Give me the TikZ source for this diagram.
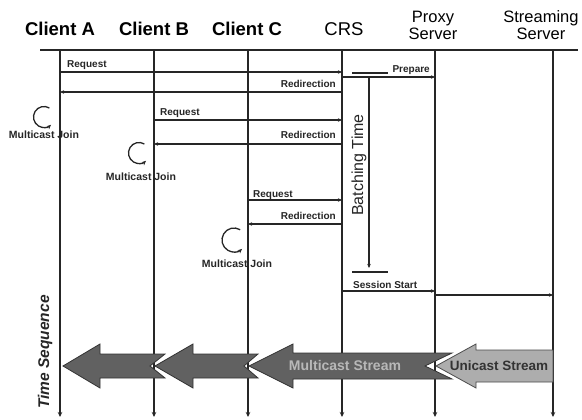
\documentclass[tikz,border=0pt]{standalone}
\usepackage{fontspec}
\setmainfont{Liberation Sans}
\usetikzlibrary{arrows.meta,calc}
\begin{document}
\begin{tikzpicture}[x=1pt,y=1pt,
 life/.style={line width=1.6pt, draw=black!85, -{Stealth[length=5pt,width=4.5pt]}},
 msg/.style={line width=1.1pt, draw=black!85, -{Stealth[length=4pt,width=3.5pt]}},
 plain/.style={line width=1.1pt, draw=black!85},
 lbl/.style={font=\fontsize{10}{12}\selectfont\bfseries, inner sep=0pt, text=black!85},
 hdr/.style={font=\fontsize{18.5}{21}\selectfont\bfseries, inner sep=0pt},
 hdrr/.style={font=\fontsize{16.5}{17}\selectfont, align=center, inner sep=0pt},
 joinarc/.style={line width=1.3pt, draw=black!85, -{Stealth[length=4.5pt,width=4pt]}},
 jlbl/.style={font=\fontsize{10.5}{12}\selectfont\bfseries, inner sep=0pt, text=black!85},
 bigdark/.style={fill=black!62, draw=black!80, line width=0.8pt},
 biglight/.style={fill=black!32, draw=black!70, line width=0.8pt},
 bigtxt/.style={font=\fontsize{14}{16}\selectfont\bfseries, inner sep=0pt}
]
\useasboundingbox[fill=white] (0,0) rectangle (582,-420);

% headers
\node[hdr] (hA) at (60,-29) {Client A};
\node[hdr] (hB) at (154,-29) {Client B};
\node[hdr] (hC) at (247,-29) {Client C};
\node[hdrr,font=\fontsize{18.5}{21}\selectfont] (hR) at (344,-29) {CRS};
\node[hdrr] (hP) at (433,-25) {Proxy\\Server};
\node[hdrr] (hS) at (541,-25) {Streaming\\Server};

% top rule
\coordinate (tl) at (40,-50);
\coordinate (tr) at (578,-50);
\draw[line width=1.2pt, black!85] (tl) -- (tr);

% lifelines
\coordinate (A) at (60,-50);  \coordinate (Ab) at (60,-417);
\coordinate (B) at (154,-50); \coordinate (Bb) at (154,-417);
\coordinate (C) at (248,-50); \coordinate (Cb) at (248,-417);
\coordinate (R) at (342,-50); \coordinate (Rb) at (342,-417);
\coordinate (P) at (435,-50); \coordinate (Pb) at (435,-417);
\coordinate (S) at (553,-50); \coordinate (Sb) at (553,-417);
\foreach \n in {A,B,C,R,P,S} \draw[life] (\n) -- (\n b);

% rows
\coordinate (y1) at (0,-72);
\coordinate (y2) at (0,-77);
\coordinate (y3) at (0,-92);
\coordinate (y4) at (0,-120);
\coordinate (y5) at (0,-144);
\coordinate (y6) at (0,-200);
\coordinate (y7) at (0,-224);
\coordinate (y8) at (0,-291);
\coordinate (y9) at (0,-295);

% messages
\draw[msg] (A|-y1) -- (R|-y1);
\node[lbl, anchor=base west] (l1) at (67,-68) {Request};
\draw[msg] (R|-y2) -- (P|-y2);
\coordinate (u1) at (352,-73); \coordinate (u2) at (388,-73);
\draw[plain] (u1) -- (u2);
\node[lbl, anchor=base east] (l2) at (430,-73) {Prepare};
\draw[msg] (R|-y3) -- (A|-y3);
\node[lbl, anchor=base east] (l3) at (336,-87.5) {Redirection};
\draw[msg] (B|-y4) -- (R|-y4);
\node[lbl, anchor=base west] (l4) at (160,-116) {Request};
\draw[msg] (R|-y5) -- (B|-y5);
\node[lbl, anchor=base east] (l5) at (336,-139) {Redirection};
\draw[msg] (C|-y6) -- (R|-y6);
\node[lbl, anchor=base west] (l6) at (253,-197) {Request};
\draw[msg] (R|-y7) -- (C|-y7);
\node[lbl, anchor=base east] (l7) at (336,-219) {Redirection};
\draw[msg] (R|-y8) -- (P|-y8);
\node[lbl, anchor=base west] (l8) at (353,-288.5) {Session Start};
\draw[msg] (P|-y9) -- (S|-y9);

% batching time
\coordinate (bt1) at (369,-77); \coordinate (bt2) at (369,-268);
\draw[msg] (bt1) -- (bt2);
\coordinate (bb1) at (352,-272); \coordinate (bb2) at (388,-272);
\draw[plain] (bb1) -- (bb2);
\node[rotate=90, font=\fontsize{16}{18}\selectfont, inner sep=0pt, text=black!85] (bt) at (359,-165) {Batching Time};

% multicast joins
\coordinate (jA) at (44,-117);
\draw[joinarc] (jA) ++(59:10.5) arc[start angle=59, end angle=312, radius=10.5];
\node[jlbl] (jlA) at (44,-135) {Multicast Join};
\coordinate (jB) at (139,-153);
\draw[joinarc] (jB) ++(59:10.5) arc[start angle=59, end angle=312, radius=10.5];
\node[jlbl] (jlB) at (141,-177) {Multicast Join};
\coordinate (jC) at (234,-240);
\draw[joinarc] (jC) ++(59:12) arc[start angle=59, end angle=312, radius=12];
\node[jlbl] (jlC) at (237,-264) {Multicast Join};

% time sequence
\node[rotate=90, font=\fontsize{15.5}{17}\selectfont\bfseries\itshape, inner sep=0pt, text=black!85] (ts) at (45,-352) {Time Sequence};

% big stream arrows
\draw[bigdark] (63,-366) -- (100,-344) -- (100,-354) -- (165,-354) -- (150,-366) -- (165,-378) -- (100,-378) -- (100,-388) -- cycle;
\draw[bigdark] (155,-366) -- (193,-344) -- (193,-354) -- (258,-354) -- (244,-366) -- (258,-378) -- (193,-378) -- (193,-388) -- cycle;
\draw[bigdark] (249,-366) -- (293,-344) -- (293,-353) -- (452,-353) -- (425,-366) -- (452,-379) -- (293,-379) -- (293,-388) -- cycle;
\draw[biglight] (436,-366) -- (476,-344) -- (476,-350) -- (553,-350) -- (553,-382) -- (476,-382) -- (476,-388) -- cycle;
\node[bigtxt, text=black!28] (ms) at (345,-365) {Multicast Stream};
\node[bigtxt, font=\fontsize{13.5}{16}\selectfont\bfseries, text=black!80] (us) at (499,-366) {Unicast Stream};
\end{tikzpicture}
\end{document}
